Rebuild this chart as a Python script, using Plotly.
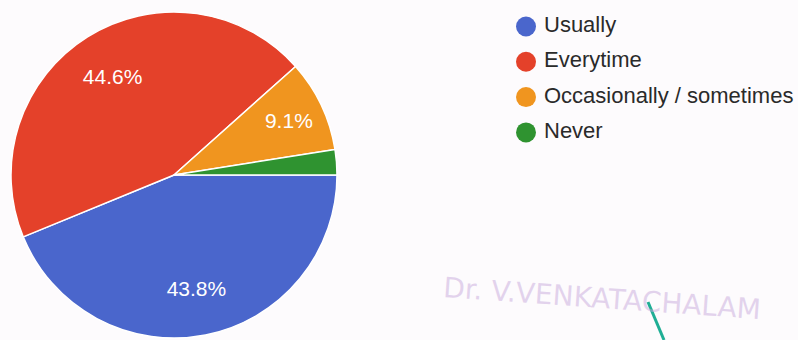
import plotly.graph_objects as go

# Survey responses (percent of respondents)
categories = ["Usually", "Everytime", "Occasionally / sometimes", "Never"]
shares = [43.8, 44.6, 9.1, 2.5]
colors = ["#4a66cc", "#e4412a", "#f0951f", "#2f9330"]
# Slices too thin to carry a label are left blank
label_min_share = 5.0

W, H = 798, 340
bg = "#fdfbfd"
pie_domain = dict(x=[11 / W, 337 / W], y=[2 / H, 328 / H])
label_font = dict(family="Liberation Sans, Arial, sans-serif", size=21, color="#ffffff")

fig = go.Figure()

# Filled pie, starting at 3 o'clock and running clockwise
fig.add_trace(go.Pie(
    labels=categories,
    values=shares,
    sort=False,
    direction="clockwise",
    rotation=90,
    marker=dict(colors=colors, line=dict(color="#ffffff", width=1.5)),
    textinfo="none",
    domain=pie_domain,
    showlegend=False,
    hoverinfo="label+percent",
))

# Transparent ring on top that carries the percentage labels further out
fig.add_trace(go.Pie(
    labels=categories,
    values=shares,
    sort=False,
    direction="clockwise",
    rotation=90,
    hole=0.42,
    marker=dict(colors=["rgba(0,0,0,0)"] * len(categories), line=dict(width=0)),
    text=[f"{v:.1f}%" if v >= label_min_share else "" for v in shares],
    textinfo="text",
    textposition="inside",
    insidetextorientation="horizontal",
    textfont=label_font,
    domain=pie_domain,
    showlegend=False,
    hoverinfo="skip",
))

# Legend column: one dot and label per category
rows = list(range(len(categories)))
fig.add_trace(go.Scatter(
    x=[0] * len(categories), y=rows,
    mode="markers",
    marker=dict(symbol="circle", size=20, color=colors),
    hoverinfo="skip", showlegend=False,
))
fig.add_trace(go.Scatter(
    x=[18] * len(categories), y=rows,
    mode="text",
    text=categories,
    textposition="middle right",
    textfont=dict(family="Liberation Sans, Arial, sans-serif", size=22, color="#2a2a2a"),
    cliponaxis=False,
    hoverinfo="skip", showlegend=False,
))

fig.update_layout(
    width=W, height=H,
    margin=dict(l=0, r=0, t=0, b=0),
    paper_bgcolor=bg,
    plot_bgcolor="rgba(0,0,0,0)",
    xaxis=dict(domain=[500 / W, 1], range=[-26, 272], visible=False, fixedrange=True),
    yaxis=dict(domain=[0, 1], range=[8.88, -0.75], visible=False, fixedrange=True),
    annotations=[
        dict(
            text="Dr. V.VENKATACHALAM",
            xref="paper", yref="paper",
            x=440 / W, y=1 - 298 / H,
            xanchor="left", yanchor="middle",
            showarrow=False,
            textangle=4,
            font=dict(family="DejaVu Sans, sans-serif", size=28, color="rgba(200,170,220,0.5)"),
        ),
    ],
    shapes=[
        dict(type="line", xref="paper", yref="paper",
             x0=648 / W, y0=1 - 302 / H, x1=664 / W, y1=0,
             line=dict(color="#1fae95", width=3)),
    ],
)

fig.write_html("out.html")
